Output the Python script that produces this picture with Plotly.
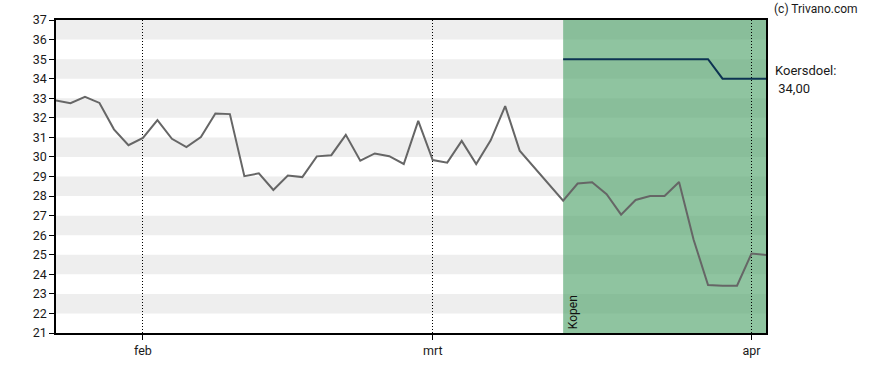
import plotly.graph_objects as go

# Price series (one value per trading session, index-based x)
price = [32.88, 32.75, 33.07, 32.76, 31.41, 30.60, 30.97, 31.88, 30.93, 30.50,
         31.02, 32.22, 32.19, 29.02, 29.16, 28.31, 29.05, 28.97, 30.03, 30.09,
         31.13, 29.81, 30.18, 30.04, 29.64, 31.84, 29.84, 29.71, 30.82, 29.64,
         30.85, 32.60, 30.32, None, None, 27.76, 28.64, 28.71, 28.10, 27.05,
         27.80, 28.00, 28.00, 28.72, 25.78, 23.45, 23.42, 23.42, 25.06, 24.99]

# Koersdoel (price target) series, starting at the advice index
target_start = 35
target = [35, 35, 35, 35, 35, 35, 35, 35, 35, 35, 35, 34, 34, 34, 34]

month_labels = ["feb", "mrt", "apr"]
month_index = [6, 26, 48]

advice_label = "Kopen"
advice_start = 35
target_label = "Koersdoel:"
target_value_label = " 34,00"
credit = "(c) Trivano.com"

y_min, y_max = 21, 37

x_price = list(range(len(price)))
x_target = list(range(target_start, target_start + len(target)))
x_last = len(price) - 1

fig = go.Figure()

fig.add_trace(go.Scatter(x=x_price, y=price, mode="lines", connectgaps=True,
                         line=dict(color="#666666", width=2), hoverinfo="skip"))
fig.add_trace(go.Scatter(x=x_target, y=target, mode="lines",
                         line=dict(color="#0d3352", width=2), hoverinfo="skip"))

shapes = []
for v in range(y_min + 1, y_max, 2):
    shapes.append(dict(type="rect", xref="paper", yref="y", x0=0, x1=1, y0=v, y1=v + 1,
                       fillcolor="#eeeeee", line_width=0, layer="below"))
shapes.append(dict(type="rect", xref="x", yref="y", x0=advice_start, x1=x_last,
                   y0=y_min, y1=y_max, fillcolor="rgba(83,164,109,0.65)",
                   line_width=0, layer="below"))
fig.update_layout(shapes=shapes)

font_family = "Roboto, Arial, sans-serif"
txt = "#1a1a1a"

fig.add_annotation(x=advice_start, y=y_min, xref="x", yref="y", text=advice_label,
                   textangle=-90, showarrow=False, xanchor="left", yanchor="bottom",
                   xshift=1, yshift=2, font=dict(family=font_family, size=12, color="#111111"))
fig.add_annotation(x=1.0, y=1.0, xref="paper", yref="paper", text=credit,
                   showarrow=False, xanchor="left", yanchor="middle", xshift=6, yshift=11,
                   font=dict(family=font_family, size=12, color=txt))
fig.add_annotation(x=1.0, y=34, xref="paper", yref="y", text=target_label,
                   showarrow=False, xanchor="left", yanchor="middle", xshift=7, yshift=8,
                   font=dict(family=font_family, size=13, color=txt))
fig.add_annotation(x=1.0, y=34, xref="paper", yref="y", text=target_value_label,
                   showarrow=False, xanchor="left", yanchor="middle", xshift=7, yshift=-10,
                   font=dict(family=font_family, size=13, color=txt))

fig.update_layout(
    width=888, height=370,
    margin=dict(l=56, r=122, t=20, b=35, pad=0),
    paper_bgcolor="white", plot_bgcolor="white",
    showlegend=False,
    font=dict(family=font_family, size=12, color=txt),
    xaxis=dict(range=[0, x_last], tickvals=month_index, ticktext=month_labels,
               showgrid=True, gridcolor="#000000", griddash="1px,2px", gridwidth=1,
               showline=True, linecolor="#000000", linewidth=1.5, mirror=True,
               ticks="outside", ticklen=5, tickcolor="#000000", zeroline=False,
               tickfont=dict(size=12.5)),
    yaxis=dict(range=[y_min, y_max], dtick=1, showgrid=False,
               showline=True, linecolor="#000000", linewidth=1.5, mirror=True,
               ticks="outside", ticklen=5, tickcolor="#000000", zeroline=False,
               tickfont=dict(size=12.5)),
)

fig.write_html("out.html")
